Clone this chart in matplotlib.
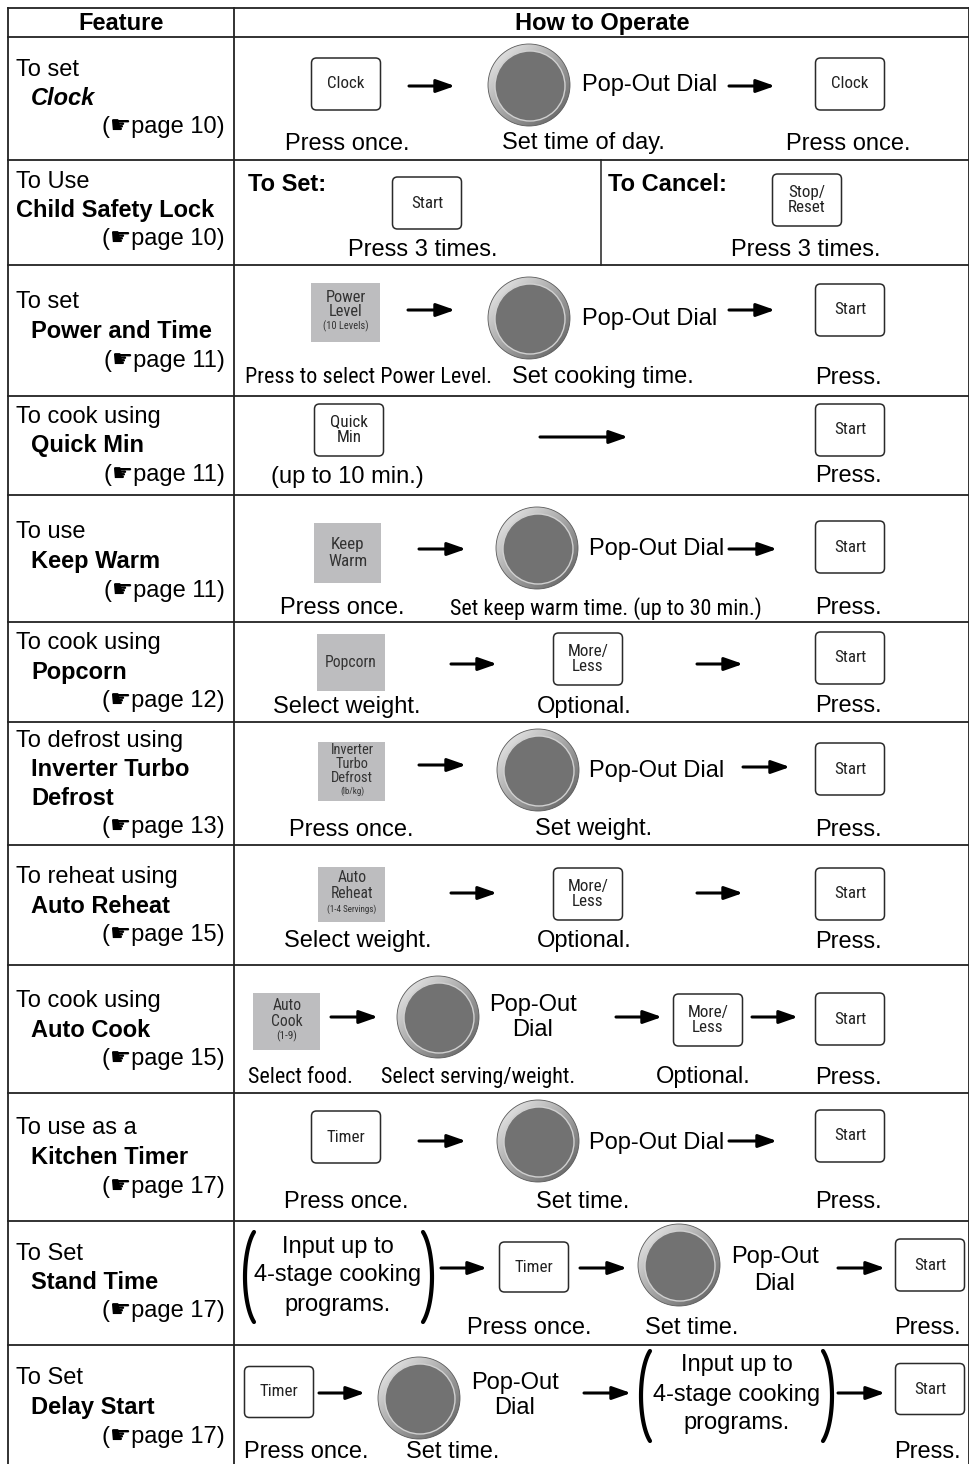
import numpy as np
import matplotlib
matplotlib.use("Agg")
import matplotlib.pyplot as plt
from matplotlib import font_manager
from matplotlib.patches import FancyBboxPatch, Circle, Rectangle

# ---- table content ----
intro = ["To set", "To Use", "To set", "To cook using", "To use", "To cook using",
         "To defrost using", "To reheat using", "To cook using", "To use as a",
         "To Set", "To Set"]
names = ["Clock", "Child Safety Lock", "Power and Time", "Quick Min", "Keep Warm",
         "Popcorn", "Inverter Turbo\nDefrost", "Auto Reheat", "Auto Cook",
         "Kitchen Timer", "Stand Time", "Delay Start"]
pages = [10, 10, 11, 11, 11, 12, 13, 15, 15, 17, 17, 17]

captions = [
    ["Press once.", "Set time of day.", "Press once."],
    ["Press 3 times.", "Press 3 times."],
    ["Press to select Power Level.", "Set cooking time.", "Press."],
    ["(up to 10 min.)", "Press."],
    ["Press once.", "Set keep warm time. (up to 30 min.)", "Press."],
    ["Select weight.", "Optional.", "Press."],
    ["Press once.", "Set weight.", "Press."],
    ["Select weight.", "Optional.", "Press."],
    ["Select food.", "Select serving/weight.", "Optional.", "Press."],
    ["Press once.", "Set time.", "Press."],
    ["Press once.", "Set time.", "Press."],
    ["Press once.", "Set time.", "Press."],
]
narrow_caps = {"Press to select Power Level.", "Set keep warm time. (up to 30 min.)",
               "Select food.", "Select serving/weight."}
dial_label = "Pop-Out Dial"
stage_note = ["Input up to", "4-stage cooking", "programs."]

# ---- layout (pixels) ----
row_edges = [37, 160, 265, 396, 495, 622, 722, 845, 965, 1093, 1221, 1345, 1464]
first_line = [31, 20, 36, 19, 36, 20, 17, 31, 35, 34, 31, 32]
cap_y = [142, 248, 376, 475, 607, 705, 828, 940, 1076, 1200, 1326, 1451]
cap_x = [[347, 583, 848], [423, 806], [369, 603, 848], [347, 848], [342, 606, 848],
         [347, 584, 848], [351, 594, 848], [358, 584, 848], [300, 478, 703, 848],
         [346, 583, 848], [529, 692, 927], [306, 453, 927]]


def has_font(f):
    try:
        font_manager.findfont(font_manager.FontProperties(family=f), fallback_to_default=False)
        return True
    except ValueError:
        return False


MAIN = ["Liberation Sans", "DejaVu Sans"]
if has_font("Liberation Sans Narrow"):
    NARROW, nscale = ["Liberation Sans Narrow", "DejaVu Sans"], 1.0
elif has_font("Roboto Condensed"):
    NARROW, nscale = ["Roboto Condensed", "DejaVu Sans"], 0.94
else:
    NARROW, nscale = ["Liberation Sans", "DejaVu Sans"], 0.84
FS = 17

fig = plt.figure(figsize=(9.7, 14.64), dpi=100)
ax = fig.add_axes([0, 0, 1, 1])
ax.set_axis_off()


def txt(x, y, s, ha="center", weight="normal", style="normal", fs=FS, family=MAIN, color="black"):
    ax.text(x, y + 1.5, s, ha=ha, va="center", fontsize=fs, fontweight=weight,
            fontstyle=style, family=family, color=color, zorder=5)


def button(x, y, lines, w=69, h=52, gray=False, fs=13, dy=16, small=None, sfs=7.5):
    if gray:
        ax.add_patch(Rectangle((x - w / 2, y - h / 2), w, h, fc="#bdbdbf", ec="none", zorder=3))
    else:
        ax.add_patch(FancyBboxPatch((x - w / 2, y - h / 2), w, h,
                                    boxstyle="round,pad=0,rounding_size=5",
                                    fc="white", ec="#2a2a2a", lw=1.1, zorder=3))
    n = len(lines) + (1 if small else 0)
    col = "#333333" if gray else "#222222"
    for k, s in enumerate(lines):
        txt(x, y - 1.5 + (k - (n - 1) / 2) * dy, s, fs=fs * nscale, family=NARROW, color=col)
    if small:
        txt(x, y - 2.5 + (n - 1 - (n - 1) / 2) * dy, small, fs=sfs, family=NARROW, color=col)


def dial(x, y, r=41):
    n = 64
    yy, xx = np.mgrid[0:n, 0:n]
    g = 0.95 - 0.6 * (xx + yy) / (2 * (n - 1))
    rim = Circle((x, y), r, fc="none", ec="#5a5a5a", lw=0.6, zorder=3)
    ax.add_patch(rim)
    im = ax.imshow(g, cmap="gray", vmin=0, vmax=1, extent=(x - r, x + r, y + r, y - r),
                   aspect="auto", interpolation="bilinear", zorder=2)
    im.set_clip_path(rim)
    ax.add_patch(Circle((x + 1, y + 1), r - 6, fc="#727272", ec="#d0d0d0", lw=1.0, zorder=4))


def arrow(x0, x1, y):
    ax.annotate("", xy=(x1, y), xytext=(x0, y),
                arrowprops=dict(arrowstyle="-|>,head_length=0.8,head_width=0.28", lw=2.2,
                                color="black", shrinkA=0, shrinkB=0, mutation_scale=14), zorder=5)


def paren(xe, yc, side, h=90, depth=9):
    # parametric half-ellipse arc, extreme point at xe
    t = np.linspace(np.radians(-62), np.radians(62), 40)
    a = depth / (1 - np.cos(np.radians(62)))
    xs = xe - side * a * (1 - np.cos(t)) if side > 0 else xe + a * (1 - np.cos(t))
    ys = yc + (h / 2) * np.sin(t) / np.sin(np.radians(62))
    ax.plot(xs, ys, color="black", lw=3.0, solid_capstyle="round", zorder=5)


def paren_note(xc, yc, xl, xr, py):
    for k, s in enumerate(stage_note):
        txt(xc, yc + (k - 1) * 29, s)
    paren(xl, py, -1)
    paren(xr, py, 1)


def dial_two_lines(xc, y):
    txt(xc, y - 13, "Pop-Out")
    txt(xc, y + 13, "Dial")


# ---- grid ----
L, M, R, TOP = 8, 234, 969, 8
lc = "#222222"
ax.plot([L, R], [TOP, TOP], color=lc, lw=1.3)
for e in row_edges[:-1]:
    ax.plot([L, R], [e, e], color=lc, lw=1.3)
for xv in (L, M, R):
    ax.plot([xv, xv], [TOP, 1464], color=lc, lw=1.3)
ax.plot([601, 601], [160, 265], color=lc, lw=1.1)

txt(121, 22, "Feature", weight="bold")
txt(602, 22, "How to Operate", weight="bold")

# ---- feature column ----
for i in range(12):
    y0 = row_edges[i] + first_line[i]
    txt(16, y0, intro[i], ha="left")
    nl = names[i].split("\n")
    for k, s in enumerate(nl):
        txt(16 if i == 1 else 31, y0 + 29 * (k + 1), s, ha="left", weight="bold",
            style="italic" if i == 0 else "normal")
    txt(225, y0 + 29 * (len(nl) + 1), f"(\u261bpage {pages[i]})", ha="right")

# ---- captions ----
for i in range(12):
    for x, s in zip(cap_x[i], captions[i]):
        if s in narrow_caps:
            txt(x, cap_y[i], s, family=NARROW, fs=FS * nscale)
        else:
            txt(x, cap_y[i], s)

# ---- operation steps ----
# Clock
button(346, 84, ["Clock"])
arrow(409, 455, 86)
dial(529, 85)
txt(582, 83, dial_label, ha="left")
arrow(729, 775, 86)
button(850, 84, ["Clock"])

# Child lock
txt(248, 183, "To Set:", ha="left", weight="bold")
button(427, 203, ["Start"])
txt(608, 183, "To Cancel:", ha="left", weight="bold")
button(807, 200, ["Stop/", "Reset"])

# Power and time
button(346, 312, ["Power", "Level"], h=59, gray=True, fs=12.5, dy=15, small="(10 Levels)")
arrow(408, 455, 310)
dial(529, 318)
txt(582, 317, dial_label, ha="left")
arrow(729, 775, 310)
button(850, 310, ["Start"])

# Quick min
button(349, 430, ["Quick", "Min"])
arrow(540, 628, 437)
button(850, 430, ["Start"])

# Keep warm
button(348, 553, ["Keep", "Warm"], w=67, h=60, gray=True, dy=17)
arrow(419, 466, 549)
dial(537, 548)
txt(589, 547, dial_label, ha="left")
arrow(729, 777, 549)
button(850, 547, ["Start"])

# Popcorn
button(351, 662, ["Popcorn"], w=68, h=57, gray=True, fs=12)
arrow(451, 497, 664)
button(588, 659, ["More/", "Less"], dy=15)
arrow(697, 743, 664)
button(850, 658, ["Start"])

# Inverter turbo defrost
button(352, 771, ["Inverter", "Turbo", "Defrost"], w=67, h=59, gray=True, fs=11, dy=14,
       small="(lb/kg)", sfs=6.5)
arrow(419, 466, 765)
dial(538, 770)
txt(589, 769, dial_label, ha="left")
arrow(743, 790, 767)
button(850, 769, ["Start"])

# Auto reheat
button(352, 894, ["Auto", "Reheat"], w=67, h=55, gray=True, fs=12, dy=16,
       small="(1-4 Servings)", sfs=6.5)
arrow(451, 497, 893)
button(588, 894, ["More/", "Less"], dy=15)
arrow(697, 743, 893)
button(850, 894, ["Start"])

# Auto cook
button(287, 1021, ["Auto", "Cook"], w=67, h=57, gray=True, fs=12, dy=16,
       small="(1-9)", sfs=8)
arrow(331, 378, 1017)
dial(438, 1017)
dial_two_lines(533, 1016)
arrow(616, 662, 1017)
button(708, 1020, ["More/", "Less"], dy=15)
arrow(752, 798, 1017)
button(850, 1019, ["Start"])

# Kitchen timer
button(346, 1137, ["Timer"])
arrow(419, 466, 1141)
dial(538, 1141)
txt(589, 1141, dial_label, ha="left")
arrow(729, 777, 1141)
button(850, 1136, ["Start"])

# Stand time
paren_note(338, 1274, 245, 432, 1277)
arrow(441, 487, 1268)
button(534, 1267, ["Timer"], h=50)
arrow(580, 627, 1268)
dial(679, 1265)
dial_two_lines(775, 1269)
arrow(838, 885, 1268)
button(930, 1265, ["Start"])

# Delay start
button(279, 1392, ["Timer"], h=51)
arrow(319, 365, 1393)
dial(419, 1398)
dial_two_lines(515, 1394)
arrow(584, 631, 1393)
paren_note(737, 1393, 641, 832, 1396)
arrow(838, 885, 1393)
button(930, 1389, ["Start"], h=51)

ax.set_xlim(0, 970)
ax.set_ylim(1464, 0)
fig.savefig("out.png", dpi=100)
